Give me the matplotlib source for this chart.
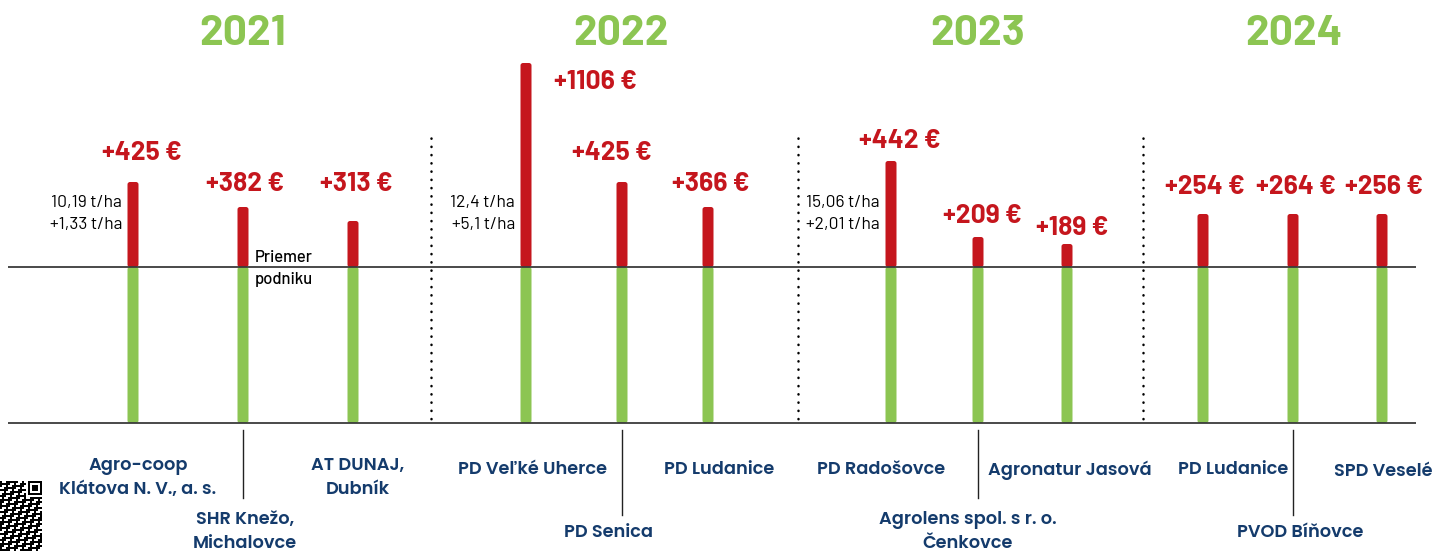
import numpy as np
import matplotlib
matplotlib.use("Agg")
import matplotlib.pyplot as plt
from matplotlib.patches import FancyBboxPatch

# ---------------- data ----------------
years = ["2021", "2022", "2023", "2024"]
farms = [
    "Agro-coop\nKlátova N. V., a. s.", "SHR Knežo,\nMichalovce", "AT DUNAJ,\nDubník",
    "PD Veľké Uherce", "PD Senica", "PD Ludanice",
    "PD Radošovce", "Agrolens spol. s r. o.\nČenkovce", "Agronatur Jasová",
    "PD Ludanice", "PVOD Bíňovce", "SPD Veselé",
]
gain_eur = [425, 382, 313, 1106, 425, 366, 442, 209, 189, 254, 264, 256]
# visual length of the red (gain) bars as drawn in the infographic
red_len = [85, 60, 46, 204, 85, 60, 106, 30, 23, 53, 53, 53]
# green (base) bars, all the same length
green_len = [156] * 12
yield_notes = {0: ["10,19 t/ha", "+1,33 t/ha"],
               3: ["12,4 t/ha", "+5,1 t/ha"],
               6: ["15,06 t/ha", "+2,01 t/ha"]}
avg_note = {1: ["Priemer", "podniku"]}

# ---------------- layout ----------------
W, H = 1432, 551
BASE = 267
def py(p):
    return BASE - p

bar_x = [133, 243, 353, 526, 622, 708, 891, 978, 1067, 1203, 1293, 1382]
year_x = [243, 621, 978, 1294]
sep_x = [431, 798, 1143]
lab_dx = [9, 2, 3, 69, -10, 3, 9, 4, 5, 2, 3, 2]
lab_base = [160, 191, 191, 89, 160, 191, 148, 223, 235, 194, 194, 194]
farm_cx = [138, 245, 358, 532, 609, 719, 881, 968, 1070, 1233, 1300, 1383]
farm_base = [470, 524, 470, 474, 537, 474, 474, 524, 475, 474, 537, 476]
connector = {1: 498, 4: 515, 7: 498, 10: 515}

GREEN = "#8cc552"
RED = "#c5161d"
NAVY = "#143b6c"
LINE = "#3a3a3a"

REG = ["Barlow", "Liberation Sans", "DejaVu Sans"]
GEO = ["Poppins", "Lato", "DejaVu Sans"]

fig = plt.figure(figsize=(W / 100, H / 100), dpi=100)
ax = fig.add_axes([0, 0, 1, 1])
ax.set_xlim(0, W)
ax.set_ylim(py(H), py(0))
ax.axis("off")

def rounded(container, color):
    for r in container:
        x0, y0 = r.get_x(), r.get_y()
        w, h = r.get_width(), r.get_height()
        if h < 0:
            y0, h = y0 + h, -h
        r.remove()
        ax.add_patch(FancyBboxPatch((x0, y0), w, h,
                                    boxstyle="round,pad=0,rounding_size=2.5",
                                    fc=color, ec="none", zorder=3))

gb = ax.bar(bar_x, [-g for g in green_len], width=11, bottom=0, color=GREEN)
rb = ax.bar(bar_x, red_len, width=11, bottom=0, color=RED)
rounded(gb, GREEN)
rounded(rb, RED)

ax.hlines([0, -green_len[0]], 8, 1416, color=LINE, lw=1.3, zorder=4)

for sx in sep_x:
    ax.plot([sx, sx], [py(138), py(424)], color="black", lw=1.8,
            linestyle=(0, (0.1, 3.2)), dash_capstyle="round", zorder=2)

for yx, yr in zip(year_x, years):
    ax.text(yx, py(45), yr, ha="center", va="baseline", color=GREEN,
            fontsize=30.5, fontweight="bold", family=REG)

for i, g in enumerate(gain_eur):
    ax.text(bar_x[i] + lab_dx[i], py(lab_base[i]), f"+{g} €", ha="center",
            va="baseline", color=RED, fontsize=19, fontweight="bold",
            family=REG)

for i, lines in yield_notes.items():
    for k, t in enumerate(lines):
        ax.text(bar_x[i] - 11, py(207 + 22 * k), t, ha="right", va="baseline",
                color="black", fontsize=12.5, fontweight="normal", family=REG)
for i, lines in avg_note.items():
    for k, t in enumerate(lines):
        ax.text(bar_x[i] + 12, py(262 + 22 * k), t, ha="left", va="baseline",
                color="black", fontsize=12, fontweight="medium", family=REG)

for i, name in enumerate(farms):
    for k, line in enumerate(name.split("\n")):
        ax.text(farm_cx[i], py(farm_base[i] + 24 * k), line, ha="center",
                va="baseline", color=NAVY, fontsize=12.8, fontweight="semibold",
                family=GEO)
    if i in connector:
        ax.plot([bar_x[i], bar_x[i]], [py(430), py(connector[i])],
                color="#222222", lw=1.0)

# QR-code like decoration (bottom-left)
rows, cols = 35, 21
qr = np.zeros((rows, cols))
for r in range(rows):
    for c in range(cols):
        qr[r, c] = 1 if ((r * r * 3 + c * c * 5 + r * c * 7) % 11) < 5 else 0
qr[0:8, 13:21] = 0
qr[0, 14:21] = 1; qr[6, 14:21] = 1; qr[0:7, 14] = 1; qr[0:7, 20] = 1
qr[2:5, 16:19] = 1
ax.imshow(qr, cmap="Greys", vmin=0, vmax=1, interpolation="nearest",
          extent=(0, 42, py(551), py(481)), aspect="auto", zorder=1)

fig.savefig("out.png", dpi=100)
